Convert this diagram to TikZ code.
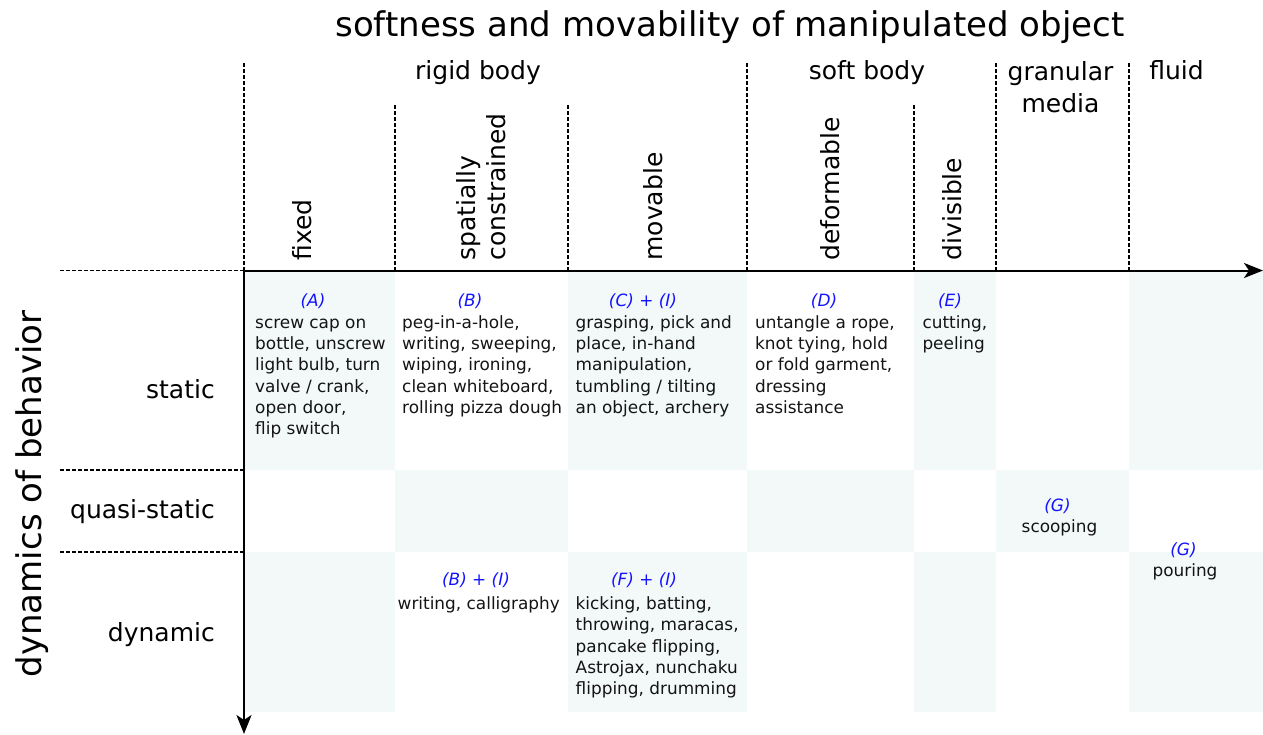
\documentclass[tikz,border=0pt]{standalone}
\usepackage{fontspec}
\setmainfont{DejaVu Sans}
\usetikzlibrary{arrows.meta}
\definecolor{cellbg}{RGB}{243,248,248}
\definecolor{tagblue}{RGB}{20,20,255}
\definecolor{txt}{RGB}{20,20,20}
\begin{document}
\begin{tikzpicture}[x=1pt,y=-1pt,
  body/.style={inner sep=0pt, align=left, anchor=north west, font=\fontsize{16.9}{21.3}\selectfont, text=txt},
  one/.style={inner sep=0pt, anchor=base, font=\fontsize{16.9}{21.3}\selectfont, text=txt},
  tag/.style={inner sep=0pt, anchor=base, font=\fontsize{16.9}{21.3}\selectfont\itshape, text=tagblue},
  head/.style={inner sep=0pt, anchor=base, font=\fontsize{25}{32.5}\selectfont, text=black},
  vhead/.style={inner sep=0pt, anchor=base west, rotate=90, align=left, font=\fontsize{25}{30}\selectfont, text=black},
  rowlab/.style={inner sep=0pt, anchor=base east, font=\fontsize{25}{30}\selectfont, text=black},
  divline/.style={dash pattern=on 3.5pt off 2.5pt, line width=1.3pt},
  axisline/.style={line width=2pt, -{Stealth[length=19pt,width=15pt,inset=5pt]}},
  cellfill/.style={fill=cellbg, draw=none}]
\useasboundingbox (0,0) rectangle (1263,734);
% cell shading (checkerboard)
\fill[cellfill] (244,270.5) rectangle (395,470);
\fill[cellfill] (568,270.5) rectangle (747,470);
\fill[cellfill] (914,270.5) rectangle (996,470);
\fill[cellfill] (1129,270.5) rectangle (1263,470);
\fill[cellfill] (395,470) rectangle (568,552);
\fill[cellfill] (747,470) rectangle (914,552);
\fill[cellfill] (996,470) rectangle (1129,552);
\fill[cellfill] (244,552) rectangle (395,712);
\fill[cellfill] (568,552) rectangle (747,712);
\fill[cellfill] (914,552) rectangle (996,712);
\fill[cellfill] (1129,552) rectangle (1263,712);
% dashed dividers
\draw[divline] (244,63) -- (244,270.5);
\draw[divline] (395,105) -- (395,270.5);
\draw[divline] (568,105) -- (568,270.5);
\draw[divline] (747,63) -- (747,270.5);
\draw[divline] (914,105) -- (914,270.5);
\draw[divline] (996,63) -- (996,270.5);
\draw[divline] (1129,63) -- (1129,270.5);
\draw[divline] (60,270.5) -- (244,270.5);
\draw[divline] (60,470) -- (244,470);
\draw[divline] (60,552) -- (244,552);
% axes
\coordinate (O) at (244,270.5);
\coordinate (xend) at (1263,270.5);
\coordinate (yend) at (244,734);
\draw[axisline] (O) -- (xend);
\draw[axisline] (O) -- (yend);
% titles
\node[inner sep=0pt, anchor=base, font=\fontsize{34}{40}\selectfont] (title) at (730,36.5) {softness and movability of manipulated object};
\node[inner sep=0pt, anchor=base, rotate=90, font=\fontsize{34}{40}\selectfont] (ytitle) at (41,494) {dynamics of behavior};
% column headers
\node[head] (rigid) at (478,79.5) {rigid body};
\node[head] (soft) at (867,79.5) {soft body};
\node[head, align=center] (granular) at (1060.5,112.5) {granular\\media};
\node[head] (fluid) at (1176.5,79.5) {fluid};
\node[vhead] (fixed) at (311,260.7) {fixed};
\node[vhead] (spatial) at (505,260.7) {spatially\\constrained};
\node[vhead] (movable) at (662,260.7) {movable};
\node[vhead] (deformable) at (839,260.7) {deformable};
\node[vhead] (divisible) at (961.7,260.7) {divisible};
% row labels
\node[rowlab] (static) at (215,398.3) {static};
\node[rowlab] (quasi) at (215,518.3) {quasi-static};
\node[rowlab] (dynamic) at (215,641.7) {dynamic};
% static row
\node[tag] (tA) at (313,306) {(A)};
\node[body] (cA) at (255,313.1) {\strut screw cap on\\bottle, unscrew\\light bulb, turn\\valve / crank,\\open door,\\flip switch};
\node[tag] (tB) at (470,306) {(B)};
\node[body] (cB) at (402,313.1) {\strut peg-in-a-hole,\\writing, sweeping,\\wiping, ironing,\\clean whiteboard,\\rolling pizza dough};
\node[tag] (tC) at (643,306) {(C) + (I)};
\node[body] (cC) at (575.5,313.1) {\strut grasping, pick and\\place, in-hand\\manipulation,\\tumbling / tilting\\an object, archery};
\node[tag] (tD) at (824,306) {(D)};
\node[body] (cD) at (755,313.1) {\strut untangle a rope,\\knot tying, hold\\or fold garment,\\dressing\\assistance};
\node[tag] (tE) at (950,306) {(E)};
\node[body] (cE) at (922.3,313.1) {\strut cutting,\\peeling};
% quasi-static row
\node[tag] (tG1) at (1057.5,511.7) {(G)};
\node[one] (cG1) at (1059.5,532.7) {scooping};
\node[tag] (tG2) at (1183.5,555) {(G)};
\node[one] (cG2) at (1185,576) {pouring};
% dynamic row
\node[tag] (tBI) at (476,585) {(B) + (I)};
\node[body] (cBI) at (397.5,594.4) {\strut writing, calligraphy};
\node[tag] (tFI) at (644,585) {(F) + (I)};
\node[body] (cFI) at (575.5,594.4) {\strut kicking, batting,\\throwing, maracas,\\pancake flipping,\\Astrojax, nunchaku\\flipping, drumming};
\end{tikzpicture}
\end{document}
